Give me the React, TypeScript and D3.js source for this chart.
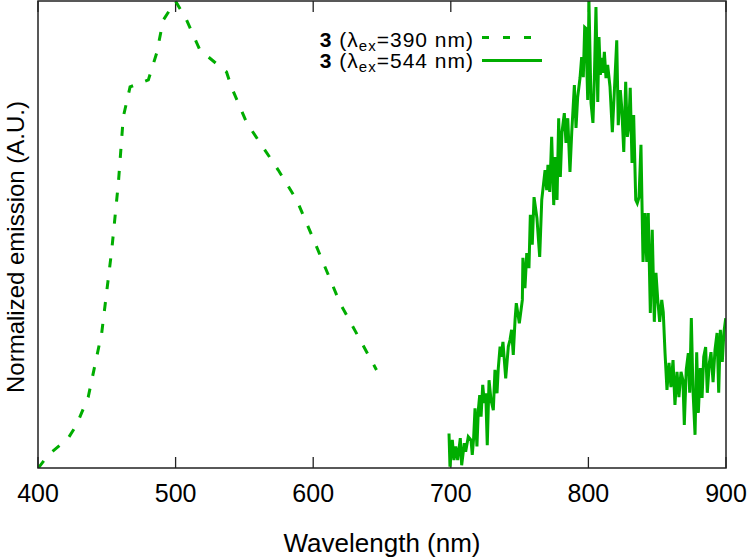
import React from "react";
import * as d3 from "d3";

// Series 1: λex = 390 nm (dashed)
const wl390 = [400.2, 407.5, 422, 428, 436.5, 446.3, 453.6, 458.4, 462, 466.9, 480.2, 486.3, 491, 500, 508, 517.7, 537, 540.8, 551.7, 574.6, 588, 601.3, 619.5, 646];
const em390 = [0.0, 0.028, 0.064, 0.092, 0.152, 0.289, 0.467, 0.61, 0.752, 0.816, 0.831, 0.889, 0.959, 1.0, 0.959, 0.895, 0.848, 0.814, 0.739, 0.638, 0.574, 0.482, 0.353, 0.21];

// Series 2: λex = 544 nm (solid, noisy)
const wl544 = [
  698.7, 699.4, 701.1, 702.3, 703.6, 705.0, 706.9, 707.9, 709.8, 710.8,
  712.7, 714.7, 715.6, 716.6, 717.6, 719.0, 720.0, 721.0, 722.0, 723.2,
  724.4, 725.4, 726.5, 727.8, 729.2, 730.9, 732.1, 733.6, 734.5, 735.8,
  736.5, 737.9, 739.9, 741.8, 743.0, 744.2, 745.4, 746.7, 747.6,
  749.8, 752.0, 752.4, 753.9, 755.2, 756.8, 757.8, 759.2, 760.5, 762.6, 764.6,
  766.1, 768.5, 769.7, 770.6, 771.9, 773.3, 774.8, 775.9, 777.2, 778.4,
  779.6, 780.8, 782.5, 783.7, 785.0, 786.6, 787.9, 789.8, 791.0, 792.2,
  793.9, 795.1, 796.3, 797.3, 798.1, 799.5, 800.4, 801.9, 803.3, 804.3,
  805.5, 806.8, 807.7, 808.7, 809.7, 810.6, 811.6, 812.8, 814.0, 815.7,
  817.4, 818.8, 820.6, 821.7, 823.2, 824.2, 825.7, 827.1, 828.3, 829.3,
  830.4, 831.7, 832.9, 834.4, 835.5, 836.8, 838.2, 839.7, 841.1, 842.4,
  843.5, 845.0, 846.4, 847.9, 849.1, 850.4, 851.8, 853.3, 854.4, 855.7,
  857.1, 858.6, 860.0, 861.5, 862.9, 864.4, 865.8, 867.3, 868.7, 869.7,
  871.1, 872.6, 873.6, 874.8, 876.0, 877.5, 878.7, 879.9, 881.3, 882.6,
  883.8, 885.2, 886.4, 887.9, 889.1, 890.6, 892.0, 893.5, 894.7, 895.9,
  897.3, 898.5, 899.8,
];
const em544 = [
  0.074, 0.003, 0.06, 0.017, 0.046, 0.017, 0.064, 0.006, 0.053, 0.035,
  0.067, 0.06, 0.028, 0.064, 0.128, 0.046, 0.124, 0.156, 0.11, 0.178,
  0.139, 0.16, 0.049, 0.188, 0.146, 0.124, 0.21, 0.16, 0.213, 0.26,
  0.238, 0.27, 0.192, 0.26, 0.274, 0.296, 0.242, 0.317, 0.353,
  0.31, 0.36, 0.45, 0.385, 0.46, 0.428, 0.542, 0.478, 0.58, 0.535, 0.452,
  0.574, 0.638, 0.595, 0.649, 0.591, 0.709, 0.563, 0.666, 0.574, 0.749,
  0.623, 0.719, 0.76, 0.696, 0.749, 0.634, 0.719, 0.82, 0.728, 0.794,
  0.835, 0.88, 0.837, 0.944, 0.942, 0.788, 1.0, 0.782, 0.739, 0.831,
  0.987, 0.784, 0.923, 0.842, 0.878, 0.846, 0.891, 0.835, 0.863, 0.816,
  0.719, 0.803, 0.916, 0.734, 0.809, 0.773, 0.677, 0.827, 0.709, 0.73,
  0.814, 0.653, 0.756, 0.574, 0.567, 0.58, 0.692, 0.441, 0.546, 0.441,
  0.546, 0.332, 0.51, 0.313, 0.418, 0.36, 0.313, 0.36, 0.334, 0.246,
  0.167, 0.225, 0.173, 0.231, 0.135, 0.206, 0.152, 0.206, 0.188, 0.092,
  0.21, 0.246, 0.161, 0.321, 0.167, 0.071, 0.248, 0.118, 0.214, 0.15,
  0.238, 0.259, 0.161, 0.225, 0.248, 0.184, 0.253, 0.289, 0.161, 0.296,
  0.227, 0.291, 0.321,
];

const xTicks = [400, 500, 600, 700, 800, 900];
const legendLabels = ["=390 nm)", "=544 nm)"];

const W = 750;
const H = 557;
const LEFT = 38;
const RIGHT = 726;
const TOP = 1;
const BOTTOM = 468;
const GREEN = "#00ad00";
const FONT = "'Liberation Sans', Arial, Helvetica, sans-serif";

export default function App() {
  const x = d3.scaleLinear().domain([400, 900]).range([LEFT, RIGHT]);
  const y = d3.scaleLinear().domain([0, 1]).range([BOTTOM, TOP]);
  const line = d3
    .line<[number, number]>()
    .x((d) => x(d[0]))
    .y((d) => y(d[1]));
  const s1 = wl390.map((w, i) => [w, em390[i]] as [number, number]);
  const s2 = wl544.map((w, i) => [w, em544[i]] as [number, number]);

  const legendRows = [
    { label: legendLabels[0], base: 46.5, lineY: 37.5, dash: "7,14", x2: 531 },
    { label: legendLabels[1], base: 67.5, lineY: 60.5, dash: undefined, x2: 542 },
  ];

  return (
    <svg
      width={W}
      height={H}
      style={{ position: "absolute", left: 0, top: 0, background: "#fff" }}
      fontFamily={FONT}
    >
      <rect x={0} y={0} width={W} height={H} fill="#fff" />
      <defs>
        <clipPath id="plotclip">
          <rect x={LEFT} y={TOP - 2} width={RIGHT - LEFT} height={BOTTOM - TOP + 2} />
        </clipPath>
      </defs>
      {/* ticks */}
      {xTicks.map((t) => (
        <g key={t}>
          <line x1={x(t)} x2={x(t)} y1={BOTTOM} y2={BOTTOM - 11} stroke="#222" strokeWidth={1.3} />
          <line x1={x(t)} x2={x(t)} y1={TOP} y2={TOP + 11} stroke="#222" strokeWidth={1.3} />
          <text x={x(t)} y={502} textAnchor="middle" fontSize={25} fill="#000">
            {t}
          </text>
        </g>
      ))}
      <g clipPath="url(#plotclip)">
        <path d={line(s1) || ""} fill="none" stroke={GREEN} strokeWidth={3} strokeDasharray="9,13" />
        <path d={line(s2) || ""} fill="none" stroke={GREEN} strokeWidth={3} strokeLinejoin="miter" />
      </g>
      <rect x={LEFT} y={TOP} width={RIGHT - LEFT} height={BOTTOM - TOP} fill="none" stroke="#222" strokeWidth={1.5} />
      {/* axis titles */}
      <text x={(LEFT + RIGHT) / 2} y={552} textAnchor="middle" fontSize={26} fill="#000">
        Wavelength (nm)
      </text>
      <text
        transform={`translate(24,247) rotate(-90)`}
        textAnchor="middle"
        fontSize={24}
        fill="#000"
      >
        Normalized emission (A.U.)
      </text>
      {/* legend */}
      {legendRows.map((r, i) => (
        <g key={i}>
          <text x={474} y={r.base} textAnchor="end" fontSize={21} letterSpacing={1} fill="#000">
            <tspan fontWeight="bold">3</tspan>
            <tspan> (λ</tspan>
            <tspan fontSize={15} dy={4}>ex</tspan>
            <tspan dy={-4}>{r.label}</tspan>
          </text>
          <line
            x1={482}
            x2={r.x2}
            y1={r.lineY}
            y2={r.lineY}
            stroke={GREEN}
            strokeWidth={3}
            strokeDasharray={r.dash}
          />
        </g>
      ))}
    </svg>
  );
}
